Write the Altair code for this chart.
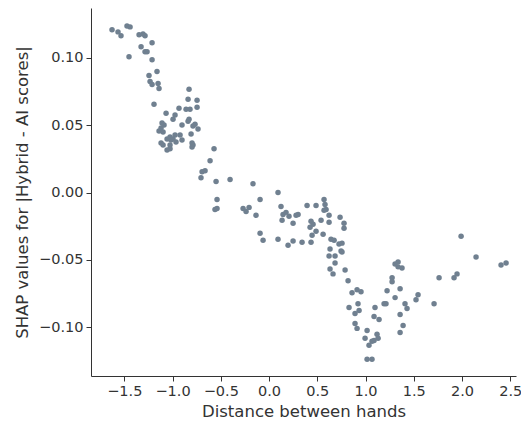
import altair as alt
import pandas as pd

x_vals = [
    -1.627, -1.565, -1.534, -1.472, -1.440, -1.347, -1.306, -1.285, -1.212, -1.326,
    -1.285, -1.264, -1.451, -1.212, -1.161, -1.244, -1.233, -1.212, -1.150, -1.140,
    -0.829, -0.839, -0.746, -1.192, -0.933, -0.860, -0.819, -0.746, -1.067, -0.974,
    -0.995, -1.109, -1.088, -0.902, -0.839, -0.829, -0.767, -0.788, -0.736, -1.119,
    -1.140, -1.098, -0.808, -1.026, -0.974, -0.922, -1.057, -1.016, -0.964, -0.902,
    -0.995, -1.119, -1.098, -1.026, -0.798, -0.788, -0.798, -1.026, -1.057, -0.570,
    -0.611,
    -0.694, -0.663, -0.705, -0.549, -0.404, -0.166, -0.539, -0.560, -0.539, -0.269,
    -0.207, -0.238, -0.135, -0.093, 0.093, 0.124, 0.145, 0.176, 0.135, 0.207,
    0.249, 0.280, 0.301, -0.093, -0.062, 0.093, 0.197, 0.249, 0.342, 0.435,
    0.394, 0.487, 0.570, 0.580, 0.591, 0.570, 0.622, 0.622, 0.736, 0.777,
    0.777, 0.435, 0.456, 0.425, 0.539, 0.487, 0.446, 0.560, 0.642, 0.674,
    0.725, 0.756, 0.746, 0.756, 0.632, 0.622, 0.684, 0.684, 0.632, 0.663,
    0.788, 0.819, 0.860, 0.912, 0.953, 0.829, 0.922, 0.933, 0.891, 0.891,
    0.912, 1.016, 0.995, 1.036, 1.067, 1.088, 1.119, 1.130, 1.088, 1.140,
    1.098, 1.192, 1.212, 1.223, 1.275, 1.275, 1.306, 1.337, 1.337, 1.378,
    1.306, 1.358, 1.409, 1.430, 1.358, 1.389, 1.358, 1.523, 1.544, 1.016,
    1.067,
    1.990, 2.145, 2.404, 2.456, 1.762, 1.917, 1.948, 1.710,
]

y_vals = [
    0.1206, 0.1191, 0.1162, 0.1235, 0.1228, 0.1169, 0.1176, 0.1162, 0.1110, 0.1081,
    0.1044, 0.1044, 0.1007, 0.0985, 0.0897, 0.0868, 0.0824, 0.0801, 0.0809, 0.0772,
    0.0765, 0.0691, 0.0684, 0.0654, 0.0625, 0.0618, 0.0618, 0.0632, 0.0588, 0.0574,
    0.0544, 0.0515, 0.0500, 0.0500, 0.0529, 0.0544, 0.0507, 0.0493, 0.0471, 0.0478,
    0.0456, 0.0449, 0.0434, 0.0412, 0.0426, 0.0426, 0.0397, 0.0390, 0.0375, 0.0390,
    0.0397, 0.0368, 0.0353, 0.0353, 0.0368, 0.0353, 0.0338, 0.0324, 0.0316, 0.0324,
    0.0235,
    0.0154, 0.0162, 0.0110, 0.0081, 0.0096, 0.0066, -0.0051, -0.0125, -0.0118, -0.0118,
    -0.0110, -0.0140, -0.0169, -0.0051, 0.0000, -0.0103, -0.0162, -0.0147, -0.0206, -0.0176,
    -0.0228, -0.0169, -0.0162, -0.0301, -0.0353, -0.0346, -0.0390, -0.0360, -0.0368, -0.0368,
    -0.0096, -0.0096, -0.0051, -0.0088, -0.0125, -0.0132, -0.0169, -0.0221, -0.0184, -0.0228,
    -0.0265, -0.0213, -0.0235, -0.0257, -0.0206, -0.0287, -0.0316, -0.0309, -0.0346, -0.0353,
    -0.0382, -0.0375, -0.0434, -0.0441, -0.0419, -0.0471, -0.0471, -0.0522, -0.0566, -0.0603,
    -0.0574, -0.0654, -0.0743, -0.0721, -0.0735, -0.0853, -0.0824, -0.0875, -0.0897, -0.0971,
    -0.1007, -0.1022, -0.1081, -0.1132, -0.1103, -0.1096, -0.1051, -0.1081, -0.0919, -0.0941,
    -0.0853, -0.0824, -0.0824, -0.0728, -0.0632, -0.0662, -0.0529, -0.0515, -0.0551, -0.0559,
    -0.0779, -0.0713, -0.0824, -0.0860, -0.0904, -0.0985, -0.1037, -0.0794, -0.0757, -0.1235,
    -0.1235,
    -0.0324, -0.0478, -0.0537, -0.0522, -0.0632, -0.0632, -0.0603, -0.0824,
]

x_ticks = [-1.5, -1.0, -0.5, 0.0, 0.5, 1.0, 1.5, 2.0, 2.5]
y_ticks = [-0.10, -0.05, 0.00, 0.05, 0.10]

df = pd.DataFrame({"x": x_vals, "y": y_vals})

font = "DejaVu Sans"


def minus_label(fmt):
    return "(datum.value < 0 ? '\u2212' : '') + format(abs(datum.value), '" + fmt + "')"


common_axis = dict(
    grid=False,
    labelFont=font, labelFontSize=14.5, labelColor="#333333",
    titleFont=font, titleFontSize=16.5, titleFontWeight="normal",
    titleColor="#333333",
    tickSize=5, tickColor="#333333", domainColor="#333333",
    labelPadding=3, labelFlush=False,
)

chart = alt.Chart(df).mark_circle(
    size=30, color="#708090", opacity=1
).encode(
    x=alt.X("x:Q", title="Distance between hands",
            scale=alt.Scale(domain=[-1.845, 2.559], nice=False, zero=False),
            axis=alt.Axis(values=x_ticks, format=".1f", labelExpr=minus_label(".1f"),
                          titlePadding=6, **common_axis)),
    y=alt.Y("y:Q", title="SHAP values for |Hybrid - AI scores|",
            scale=alt.Scale(domain=[-0.136, 0.1368], nice=False, zero=False),
            axis=alt.Axis(values=y_ticks, format=".2f", labelExpr=minus_label(".2f"),
                          titlePadding=8, **common_axis)),
).properties(
    width=425, height=368,
    background="white",
    autosize=alt.AutoSizeParams(type="none"),
    padding={"left": 83, "top": 0, "right": 5, "bottom": 50},
).configure_view(strokeWidth=0, stroke=None)

chart.save("out.html", embed_options={"renderer": "svg", "actions": False})
